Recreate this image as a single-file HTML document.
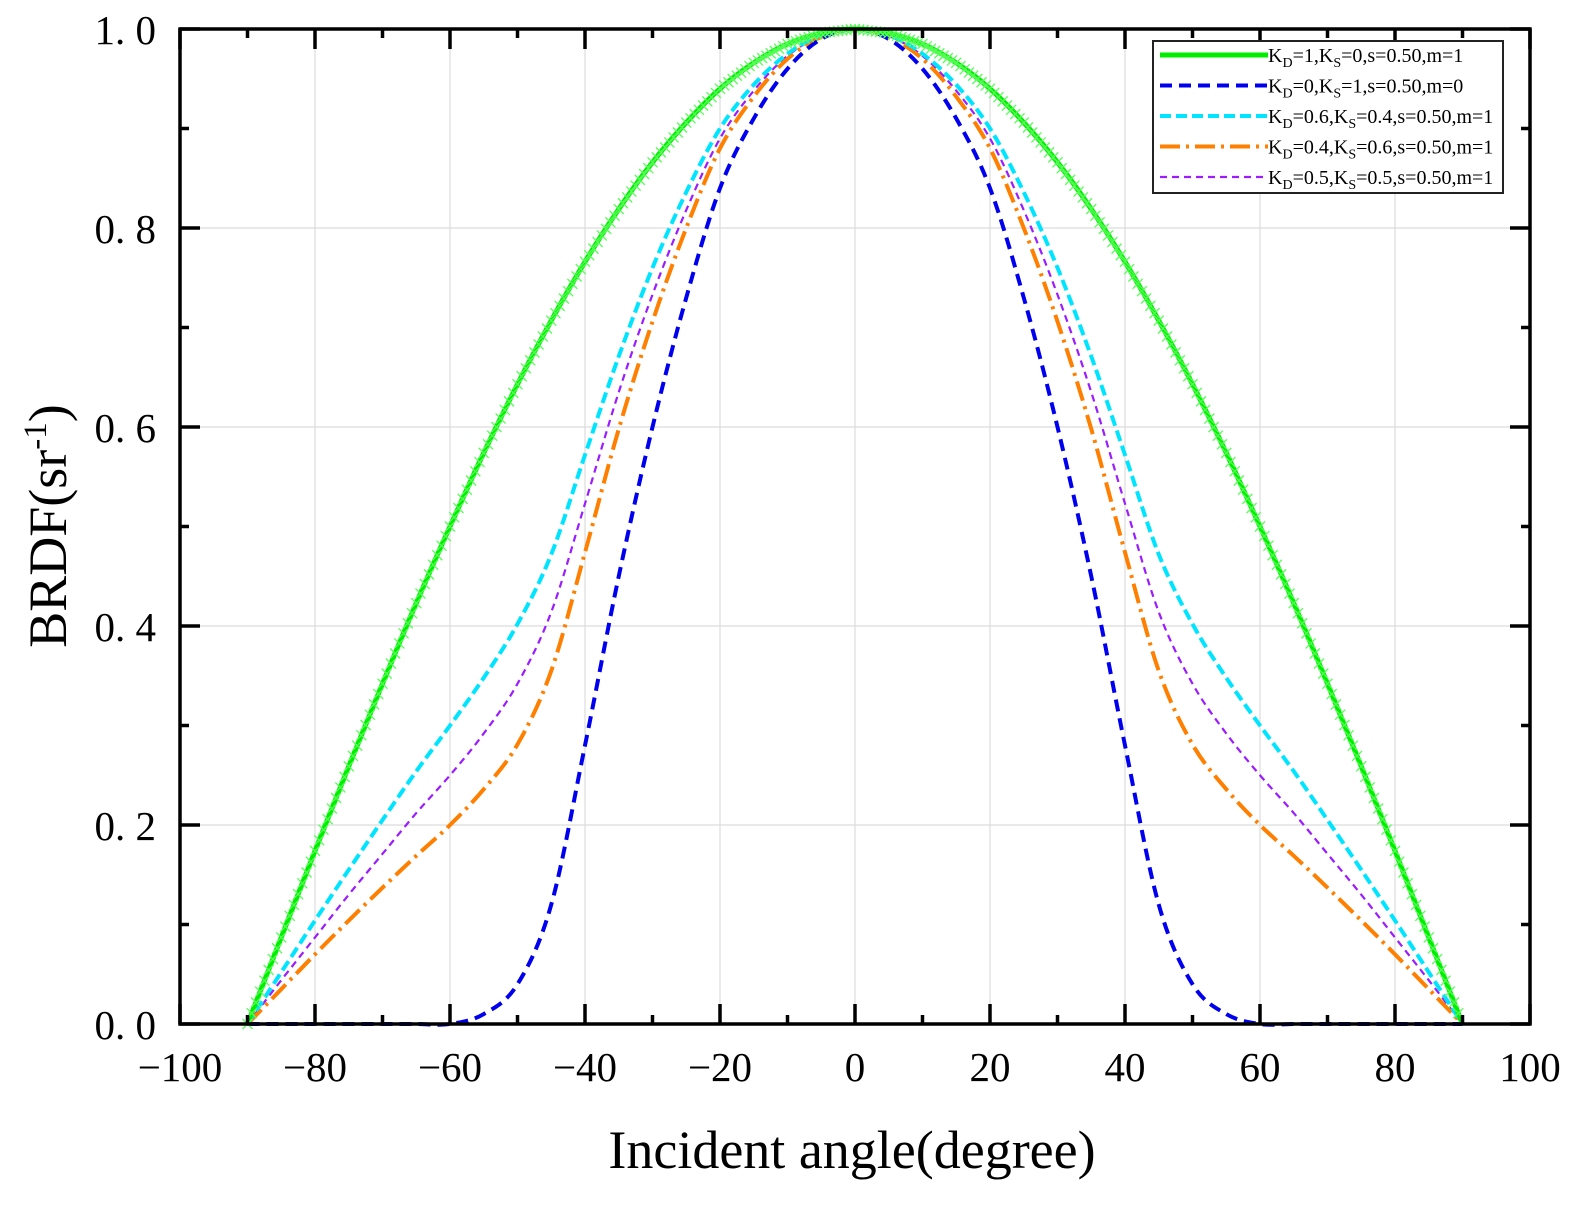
<!DOCTYPE html>
<html><head><meta charset="utf-8"><style>
html,body{margin:0;padding:0;background:#fff;}
svg{display:block;font-family:"Liberation Serif",serif;}
</style></head><body>
<svg id="chart" width="1575" height="1218" viewBox="0 0 1575 1218" xmlns="http://www.w3.org/2000/svg">
<g id="grid"></g>
<g id="series"></g>
<g id="axes"></g>
<text x="852" y="1168" font-size="54" text-anchor="middle">Incident angle(degree)</text>
<text transform="translate(66,526) rotate(-90)" font-size="54" text-anchor="middle">BRDF(sr<tspan dy="-20" font-size="33">-1</tspan><tspan dy="20">)</tspan></text>
<g id="legend"></g>
</svg>
<script>
const angles=[0,5,10,15,20,25,30,35,40,45,50,55,60,65,70,75,80,85,90];
const seriesGreen=[1,.996,.985,.966,.94,.906,.866,.819,.766,.707,.643,.574,.5,.423,.342,.259,.174,.087,0];
const seriesBlue=[1,.99,.96,.91,.84,.73,.6,.45,.28,.12,.04,.01,0,0,0,0,0,0,0];
const seriesCyan=[1,.994,.975,.944,.9,.836,.76,.671,.572,.472,.402,.348,.3,.254,.205,.155,.104,.052,0];
const seriesOrange=[1,.992,.97,.932,.88,.8,.706,.598,.474,.355,.281,.236,.2,.169,.137,.104,.07,.035,0];
const seriesPurple=[1,.993,.973,.938,.89,.818,.733,.635,.523,.414,.342,.292,.25,.212,.171,.13,.087,.044,0];
const xTicks=[-100,-80,-60,-40,-20,0,20,40,60,80,100];
const yTicks=[0,0.2,0.4,0.6,0.8,1.0];
const yTickLabels=["0. 0","0. 2","0. 4","0. 6","0. 8","1. 0"];
const legendLabels=[["1","0","m=1"],["0","1","m=0"],["0.6","0.4","m=1"],["0.4","0.6","m=1"],["0.5","0.5","m=1"]];

const NS="http://www.w3.org/2000/svg";
const L=180,R=1530,T=29,B=1024;
const xs=v=>L+(v+100)/200*(R-L);
const ys=v=>B-v*(B-T);
function mk(tag,attrs,parent){const e=document.createElementNS(NS,tag);for(const k in attrs)e.setAttribute(k,attrs[k]);parent.appendChild(e);return e;}
const grid=document.getElementById('grid'),axes=document.getElementById('axes'),ser=document.getElementById('series'),leg=document.getElementById('legend');

xTicks.forEach(t=>{if(t>-100&&t<100){const g=mk('line',{x1:xs(t),x2:xs(t),y1:T,y2:B,stroke:'#dcdcdc','stroke-width':1.2},grid);

}});
yTicks.forEach(t=>{if(t>0&&t<1){const g=mk('line',{x1:L,x2:R,y1:ys(t),y2:ys(t),stroke:'#dcdcdc','stroke-width':1.2},grid);

}});

function fullPts(arr){const pts=[];for(let i=arr.length-1;i>0;i--)pts.push([-angles[i],arr[i]]);for(let i=0;i<arr.length;i++)pts.push([angles[i],arr[i]]);return pts.map(p=>[xs(p[0]),ys(p[1])]);}
function smooth(p){let d=`M${p[0][0]},${p[0][1]}`;for(let i=0;i<p.length-1;i++){const p0=p[Math.max(i-1,0)],p1=p[i],p2=p[i+1],p3=p[Math.min(i+2,p.length-1)];
const c1=[p1[0]+(p2[0]-p0[0])/6,p1[1]+(p2[1]-p0[1])/6],c2=[p2[0]-(p3[0]-p1[0])/6,p2[1]-(p3[1]-p1[1])/6];
d+=`C${c1[0]},${c1[1]} ${c2[0]},${c2[1]} ${p2[0]},${p2[1]}`;}return d;}
const defs=[
 {arr:seriesPurple,color:'#9b1cff',w:2.2,dash:'7,5',name:'series-kd05'},
 {arr:seriesOrange,color:'#ff7f00',w:4,dash:'20,6,3,6',name:'series-kd04'},
 {arr:seriesCyan,color:'#00e5ff',w:4,dash:'11,5',name:'series-kd06'},
 {arr:seriesBlue,color:'#0000ee',w:4,dash:'12,7',name:'series-kd0'},
 {arr:seriesGreen,color:'#00ee00',w:5,dash:'',name:'series-kd1'}
];
defs.forEach(s=>{const p=mk('path',{d:smooth(fullPts(s.arr)),fill:'none',stroke:s.color,'stroke-width':s.w,'stroke-dasharray':s.dash},ser);

});
(function(){const pts=fullPts(seriesGreen);for(let i=0;i<pts.length-1;i++){for(let k=0;k<8;k++){const t=k/8;const x=pts[i][0]+(pts[i+1][0]-pts[i][0])*t,y=pts[i][1]+(pts[i+1][1]-pts[i][1])*t;
const m=mk('path',{d:`M${x-5},${y-5}L${x+5},${y+5}M${x-5},${y+5}L${x+5},${y-5}`,stroke:'#55ff55','stroke-width':1.3},ser);

}}})();

const fr=mk('rect',{x:L,y:T,width:R-L,height:B-T,fill:'none',stroke:'#000','stroke-width':3.5},axes);


for(let v=-100;v<=100;v+=10){const maj=v%20===0;const len=maj?20:9;const x=xs(v);
mk('line',{x1:x,x2:x,y1:B,y2:B-len,stroke:'#000','stroke-width':3.5},axes);
mk('line',{x1:x,x2:x,y1:T,y2:T+len,stroke:'#000','stroke-width':3.5},axes);}
for(let i=0;i<=10;i++){const v=i/10;const maj=i%2===0;const len=maj?20:9;const y=ys(v);
mk('line',{x1:L,x2:L+len,y1:y,y2:y,stroke:'#000','stroke-width':3.5},axes);
mk('line',{x1:R,x2:R-len,y1:y,y2:y,stroke:'#000','stroke-width':3.5},axes);}
xTicks.forEach(t=>{const e=mk('text',{x:xs(t),y:1081,'font-size':41,'text-anchor':'middle'},axes);e.textContent=(t<0?'\u2212':'')+Math.abs(t);

});
yTicks.forEach((t,i)=>{const e=mk('text',{x:156,y:ys(t)+15,'font-size':41,'text-anchor':'end'},axes);e.textContent=yTickLabels[i];

});

const lb=mk('rect',{x:1153,y:41,width:350,height:152,fill:'#fff',stroke:'#222','stroke-width':2},leg);


const legStyles=[defs[4],defs[3],defs[2],defs[1],defs[0]];
legendLabels.forEach((lab,i)=>{const y=55+i*30.5;const s=legStyles[i];
const ln=mk('line',{x1:1160,x2:1268,y1:y,y2:y,stroke:s.color,'stroke-width':s.w,'stroke-dasharray':s.dash},leg);


const t=mk('text',{x:1268,y:y+7,'font-size':20},leg);
t.innerHTML=`K<tspan font-size="14" dy="5">D</tspan><tspan dy="-5">=${lab[0]},K</tspan><tspan font-size="14" dy="5">S</tspan><tspan dy="-5">=${lab[1]},s=0.50,${lab[2]}</tspan>`;

});
</script>
</body></html>
